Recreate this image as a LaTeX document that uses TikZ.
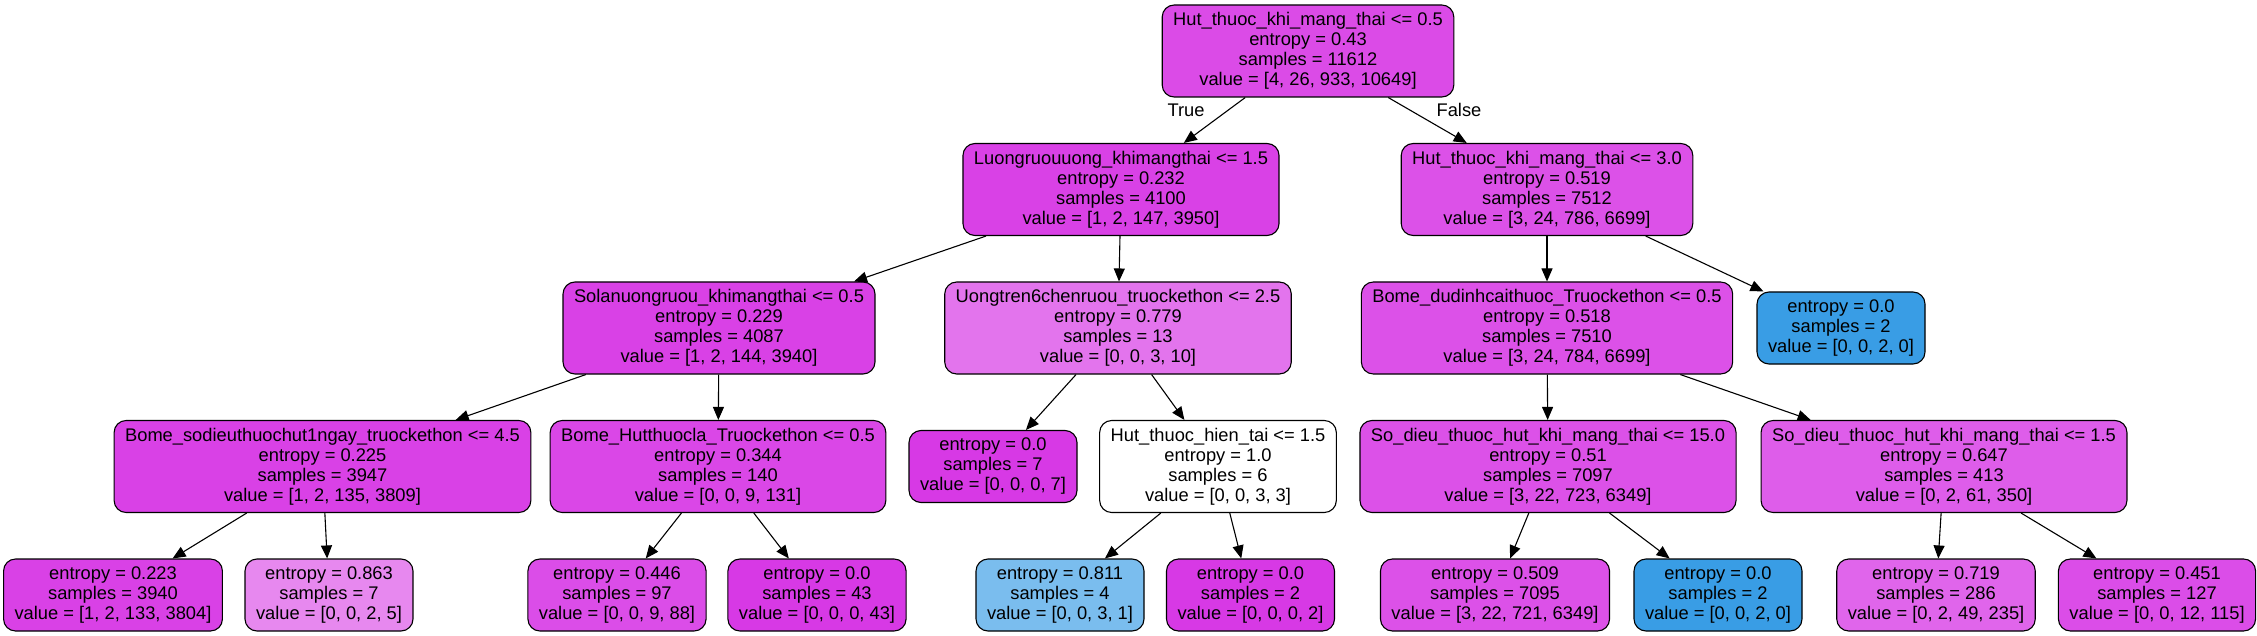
\documentclass[tikz,border=0pt]{standalone}
\usepackage{fontspec}
\setmainfont{Liberation Sans}
\usetikzlibrary{arrows.meta}
\definecolor{cpurple}{HTML}{D739E5}
\definecolor{cblue}{HTML}{399DE5}
\begin{document}
\begin{tikzpicture}[x=1pt, y=-1pt,
    split/.style={draw, rounded corners=12pt, line width=1.1pt, align=center, minimum height=92pt, inner xsep=11pt, inner ysep=0pt, font=\fontsize{18.3}{20}\selectfont},
    leaf/.style={split, minimum height=72pt},
    link/.style={draw, line width=1.1pt, -{Triangle[length=13pt,width=11pt]}}]
  \useasboundingbox (0,0) rectangle (2257,636);
  \node[split, fill=cpurple!91] (root) at (1308,51) {Hut\_thuoc\_khi\_mang\_thai <= 0.5\\entropy = 0.43\\samples = 11612\\value = [4, 26, 933, 10649]};
  \node[split, fill=cpurple!96] (luong) at (1121,189.5) {Luongruouuong\_khimangthai <= 1.5\\entropy = 0.232\\samples = 4100\\value = [1, 2, 147, 3950]};
  \node[split, fill=cpurple!88] (hutb) at (1547,189.5) {Hut\_thuoc\_khi\_mang\_thai <= 3.0\\entropy = 0.519\\samples = 7512\\value = [3, 24, 786, 6699]};
  \node[split, fill=cpurple!96] (solan) at (719,328) {Solanuongruou\_khimangthai <= 0.5\\entropy = 0.229\\samples = 4087\\value = [1, 2, 144, 3940]};
  \node[split, fill=cpurple!70] (uong) at (1118,328) {Uongtren6chenruou\_truockethon <= 2.5\\entropy = 0.779\\samples = 13\\value = [0, 0, 3, 10]};
  \node[split, fill=cpurple!88] (bomed) at (1547,328) {Bome\_dudinhcaithuoc\_Truockethon <= 0.5\\entropy = 0.518\\samples = 7510\\value = [3, 24, 784, 6699]};
  \node[leaf, fill=cblue] (leafa) at (1841,328) {entropy = 0.0\\samples = 2\\value = [0, 0, 2, 0]};
  \node[split, fill=cpurple!96] (bomes) at (322.5,466.5) {Bome\_sodieuthuochut1ngay\_truockethon <= 4.5\\entropy = 0.225\\samples = 3947\\value = [1, 2, 135, 3809]};
  \node[split, fill=cpurple!93] (bomeh) at (718,466.5) {Bome\_Hutthuocla\_Truockethon <= 0.5\\entropy = 0.344\\samples = 140\\value = [0, 0, 9, 131]};
  \node[leaf, fill=cpurple] (leafb) at (993,466.5) {entropy = 0.0\\samples = 7\\value = [0, 0, 0, 7]};
  \node[split, fill=white] (huthien) at (1218,466.5) {Hut\_thuoc\_hien\_tai <= 1.5\\entropy = 1.0\\samples = 6\\value = [0, 0, 3, 3]};
  \node[split, fill=cpurple!88] (sodieua) at (1548,466.5) {So\_dieu\_thuoc\_hut\_khi\_mang\_thai <= 15.0\\entropy = 0.51\\samples = 7097\\value = [3, 22, 723, 6349]};
  \node[split, fill=cpurple!82] (sodieub) at (1944,466.5) {So\_dieu\_thuoc\_hut\_khi\_mang\_thai <= 1.5\\entropy = 0.647\\samples = 413\\value = [0, 2, 61, 350]};
  \node[leaf, fill=cpurple!96] (l1) at (113,595) {entropy = 0.223\\samples = 3940\\value = [1, 2, 133, 3804]};
  \node[leaf, fill=cpurple!60] (l2) at (329,595) {entropy = 0.863\\samples = 7\\value = [0, 0, 2, 5]};
  \node[leaf, fill=cpurple!90] (l3) at (617,595) {entropy = 0.446\\samples = 97\\value = [0, 0, 9, 88]};
  \node[leaf, fill=cpurple] (l4) at (817,595) {entropy = 0.0\\samples = 43\\value = [0, 0, 0, 43]};
  \node[leaf, fill=cblue!67] (l5) at (1060,595) {entropy = 0.811\\samples = 4\\value = [0, 0, 3, 1]};
  \node[leaf, fill=cpurple] (l6) at (1250.5,595) {entropy = 0.0\\samples = 2\\value = [0, 0, 0, 2]};
  \node[leaf, fill=cpurple!88] (l7) at (1495,595) {entropy = 0.509\\samples = 7095\\value = [3, 22, 721, 6349]};
  \node[leaf, fill=cblue] (l8) at (1718,595) {entropy = 0.0\\samples = 2\\value = [0, 0, 2, 0]};
  \node[leaf, fill=cpurple!78] (l9) at (1936,595) {entropy = 0.719\\samples = 286\\value = [0, 2, 49, 235]};
  \node[leaf, fill=cpurple!90] (l10) at (2157,595) {entropy = 0.451\\samples = 127\\value = [0, 0, 12, 115]};
  \node[font=\fontsize{18.3}{20}\selectfont] (true) at (1186,110) {True};
  \node[font=\fontsize{18.3}{20}\selectfont] (false) at (1459,110) {False};
  \path (root) edge[link] (luong) edge[link] (hutb);
  \path (luong) edge[link] (solan) edge[link] (uong);
  \path (hutb) edge[link] (bomed) edge[link] (leafa);
  \path (solan) edge[link] (bomes) edge[link] (bomeh);
  \path (uong) edge[link] (leafb) edge[link] (huthien);
  \path (bomed) edge[link] (sodieua) edge[link] (sodieub);
  \path (bomes) edge[link] (l1) edge[link] (l2);
  \path (bomeh) edge[link] (l3) edge[link] (l4);
  \path (huthien) edge[link] (l5) edge[link] (l6);
  \path (sodieua) edge[link] (l7) edge[link] (l8);
  \path (sodieub) edge[link] (l9) edge[link] (l10);
\end{tikzpicture}
\end{document}
